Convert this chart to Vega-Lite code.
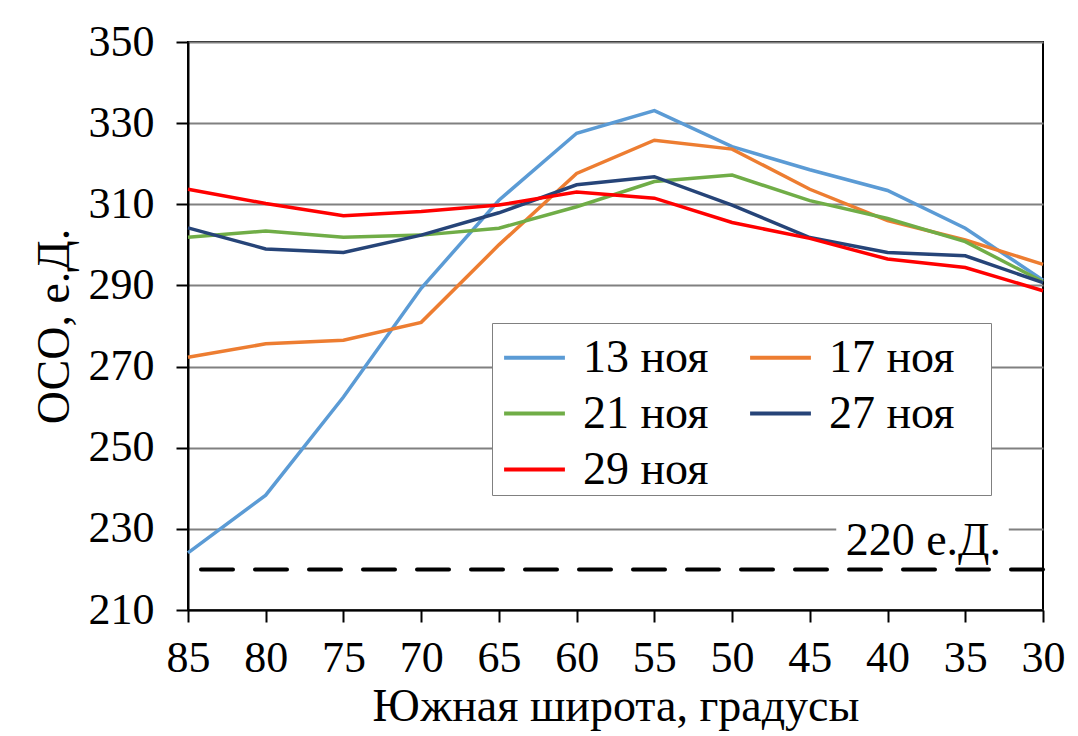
{
  "$schema": "https://vega.github.io/schema/vega-lite/v6.json",
  "width": 855,
  "height": 568,
  "autosize": {"type": "none"},
  "padding": {"left": 188, "top": 42, "right": 35, "bottom": 126},
  "background": "white",
  "config": {
    "font": "Liberation Serif",
    "view": {"stroke": "black", "strokeWidth": 2},
    "axis": {
      "labelFont": "Liberation Serif",
      "titleFont": "Liberation Serif",
      "labelFontSize": 44,
      "titleFontSize": 46,
      "labelColor": "black",
      "titleColor": "black",
      "titleFontWeight": "normal",
      "domainColor": "black",
      "domainWidth": 2,
      "tickColor": "black",
      "tickWidth": 2,
      "tickSize": 12,
      "gridColor": "#808080",
      "gridWidth": 2,
      "gridOpacity": 1
    }
  },
  "datasets": {
    "oso": [
      {"lat": 85, "oso": 224.1, "date": "13 ноя"},
      {"lat": 80, "oso": 238.3, "date": "13 ноя"},
      {"lat": 75, "oso": 262.5, "date": "13 ноя"},
      {"lat": 70, "oso": 289.3, "date": "13 ноя"},
      {"lat": 65, "oso": 311.0, "date": "13 ноя"},
      {"lat": 60, "oso": 327.5, "date": "13 ноя"},
      {"lat": 55, "oso": 333.1, "date": "13 ноя"},
      {"lat": 50, "oso": 324.2, "date": "13 ноя"},
      {"lat": 45, "oso": 318.5, "date": "13 ноя"},
      {"lat": 40, "oso": 313.4, "date": "13 ноя"},
      {"lat": 35, "oso": 304.1, "date": "13 ноя"},
      {"lat": 30, "oso": 291.3, "date": "13 ноя"},
      {"lat": 85, "oso": 272.3, "date": "17 ноя"},
      {"lat": 80, "oso": 275.6, "date": "17 ноя"},
      {"lat": 75, "oso": 276.5, "date": "17 ноя"},
      {"lat": 70, "oso": 280.9, "date": "17 ноя"},
      {"lat": 65, "oso": 300.0, "date": "17 ноя"},
      {"lat": 60, "oso": 317.6, "date": "17 ноя"},
      {"lat": 55, "oso": 325.8, "date": "17 ноя"},
      {"lat": 50, "oso": 323.6, "date": "17 ноя"},
      {"lat": 45, "oso": 313.7, "date": "17 ноя"},
      {"lat": 40, "oso": 306.0, "date": "17 ноя"},
      {"lat": 35, "oso": 301.2, "date": "17 ноя"},
      {"lat": 30, "oso": 295.2, "date": "17 ноя"},
      {"lat": 85, "oso": 301.9, "date": "21 ноя"},
      {"lat": 80, "oso": 303.4, "date": "21 ноя"},
      {"lat": 75, "oso": 301.9, "date": "21 ноя"},
      {"lat": 70, "oso": 302.4, "date": "21 ноя"},
      {"lat": 65, "oso": 304.1, "date": "21 ноя"},
      {"lat": 60, "oso": 309.4, "date": "21 ноя"},
      {"lat": 55, "oso": 315.6, "date": "21 ноя"},
      {"lat": 50, "oso": 317.2, "date": "21 ноя"},
      {"lat": 45, "oso": 310.9, "date": "21 ноя"},
      {"lat": 40, "oso": 306.5, "date": "21 ноя"},
      {"lat": 35, "oso": 300.8, "date": "21 ноя"},
      {"lat": 30, "oso": 290.9, "date": "21 ноя"},
      {"lat": 85, "oso": 304.2, "date": "27 ноя"},
      {"lat": 80, "oso": 299.0, "date": "27 ноя"},
      {"lat": 75, "oso": 298.1, "date": "27 ноя"},
      {"lat": 70, "oso": 302.4, "date": "27 ноя"},
      {"lat": 65, "oso": 307.9, "date": "27 ноя"},
      {"lat": 60, "oso": 314.8, "date": "27 ноя"},
      {"lat": 55, "oso": 316.8, "date": "27 ноя"},
      {"lat": 50, "oso": 309.8, "date": "27 ноя"},
      {"lat": 45, "oso": 301.8, "date": "27 ноя"},
      {"lat": 40, "oso": 298.1, "date": "27 ноя"},
      {"lat": 35, "oso": 297.3, "date": "27 ноя"},
      {"lat": 30, "oso": 290.7, "date": "27 ноя"},
      {"lat": 85, "oso": 313.7, "date": "29 ноя"},
      {"lat": 80, "oso": 310.2, "date": "29 ноя"},
      {"lat": 75, "oso": 307.2, "date": "29 ноя"},
      {"lat": 70, "oso": 308.2, "date": "29 ноя"},
      {"lat": 65, "oso": 309.8, "date": "29 ноя"},
      {"lat": 60, "oso": 313.0, "date": "29 ноя"},
      {"lat": 55, "oso": 311.5, "date": "29 ноя"},
      {"lat": 50, "oso": 305.5, "date": "29 ноя"},
      {"lat": 45, "oso": 301.6, "date": "29 ноя"},
      {"lat": 40, "oso": 296.5, "date": "29 ноя"},
      {"lat": 35, "oso": 294.4, "date": "29 ноя"},
      {"lat": 30, "oso": 288.7, "date": "29 ноя"}
    ]
  },
  "layer": [
    {
      "data": {"values": [{"lonA": 43.3, "lonB": 32.2, "valA": 228.6, "valB": 231.4}]},
      "mark": {"type": "rect", "fill": "white"},
      "encoding": {
        "x": {"field": "lonA", "type": "quantitative", "scale": {"domain": [30, 85], "reverse": true, "nice": false, "zero": false},
          "axis": {"values": [85, 80, 75, 70, 65, 60, 55, 50, 45, 40, 35, 30], "grid": false, "title": "Южная широта, градусы", "labelPadding": 14, "titlePadding": 4, "labelFlush": false}},
        "x2": {"field": "lonB"},
        "y": {"field": "valA", "type": "quantitative", "scale": {"domain": [210, 350], "nice": false, "zero": false},
          "axis": {"values": [210, 230, 250, 270, 290, 310, 330, 350], "grid": true, "title": "ОСО, е.Д.", "labelPadding": 22, "titlePadding": 10}},
        "y2": {"field": "valB"}
      }
    },
    {
      "data": {"values": [{"level": 220}]},
      "mark": {"type": "rule", "color": "black", "strokeWidth": 4, "strokeDash": [32, 22], "strokeCap": "round"},
      "encoding": {"y": {"field": "level", "type": "quantitative"}}
    },
    {
      "data": {"values": [{"lon": 37.7, "val": 223.6, "label": "220 е.Д."}]},
      "mark": {"type": "text", "fontSize": 46, "font": "Liberation Serif", "align": "center", "baseline": "alphabetic", "color": "black"},
      "encoding": {
        "x": {"field": "lon", "type": "quantitative"},
        "y": {"field": "val", "type": "quantitative"},
        "text": {"field": "label"}
      }
    },
    {
      "data": {"name": "oso"},
      "mark": {"type": "line", "strokeWidth": 3.5},
      "encoding": {
        "x": {"field": "lat", "type": "quantitative"},
        "y": {"field": "oso", "type": "quantitative"},
        "color": {
          "field": "date", "type": "nominal",
          "scale": {"domain": ["13 ноя", "17 ноя", "21 ноя", "27 ноя", "29 ноя"], "range": ["#5B9BD5", "#ED7D31", "#70AD47", "#264478", "#FF0000"]},
          "legend": {
            "title": null,
            "orient": "none",
            "legendX": 304,
            "legendY": 281,
            "columns": 2,
            "direction": "horizontal",
            "symbolType": "M-1,0H1",
            "symbolSize": 3700,
            "symbolStrokeWidth": 4,
            "symbolOffset": 8,
            "labelFont": "Liberation Serif",
            "labelFontSize": 46,
            "labelColor": "black",
            "labelOffset": 16,
            "labelLimit": 400,
            "labelExpr": "datum.label == '17 ноя' || datum.label == '27 ноя' ? datum.label + '\u2800' : datum.label",
            "columnPadding": 31,
            "rowPadding": 0,
            "padding": 2,
            "strokeColor": "#808080",
            "fillColor": "white"
          }
        }
      }
    }
  ]
}
